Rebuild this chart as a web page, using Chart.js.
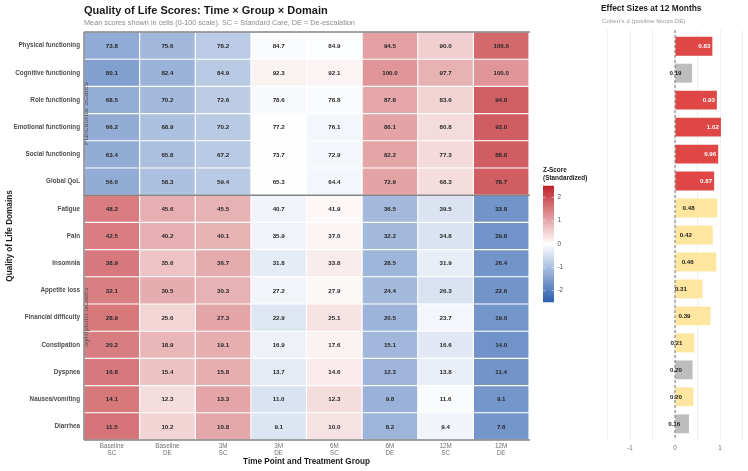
<!DOCTYPE html>
<html><head><meta charset="utf-8">
<script src="https://cdn.jsdelivr.net/npm/chart.js@4.4.1/dist/chart.umd.min.js"></script>
<style>
html,body{margin:0;padding:0;background:#fff;width:748px;height:471px;overflow:hidden}
canvas{position:absolute;top:0}
#c1{left:0}
#c2{left:590px}
</style></head><body>
<canvas id="c1" width="748" height="471" style="width:748px;height:471px"></canvas>
<canvas id="c2" width="158" height="471" style="width:158px;height:471px"></canvas>
<script>
// ---------- DATA ----------
const domains = ["Physical functioning","Cognitive functioning","Role functioning","Emotional functioning","Social functioning","Global QoL","Fatigue","Pain","Insomnia","Appetite loss","Financial difficulty","Constipation","Dyspnea","Nausea/vomiting","Diarrhea"];
const timePoints = ["Baseline\nSC","Baseline\nDE","3M\nSC","3M\nDE","6M\nSC","6M\nDE","12M\nSC","12M\nDE"];
const physical     = [73.8,75.6,78.2,84.7,84.9,94.5,90.0,100.0];
const cognitive    = [80.1,82.4,84.9,92.3,92.1,100.0,97.7,100.0];
const role         = [68.5,70.2,72.6,78.6,78.8,87.8,83.6,94.8];
const emotional    = [66.2,68.9,70.2,77.2,76.1,86.1,80.8,93.0];
const social       = [63.4,65.8,67.2,73.7,72.9,82.2,77.3,88.8];
const globalQoL    = [56.0,58.3,59.4,65.3,64.4,72.9,68.3,78.7];
const fatigue      = [48.2,45.6,45.5,40.7,41.9,36.5,39.5,33.8];
const pain         = [42.5,40.2,40.1,35.9,37.0,32.2,34.8,29.8];
const insomnia     = [38.9,35.6,36.7,31.8,33.8,28.5,31.9,26.4];
const appetite     = [32.1,30.5,30.3,27.2,27.9,24.4,26.3,22.6];
const financial    = [28.9,25.6,27.3,22.9,25.1,20.5,23.7,19.0];
const constipation = [20.2,18.9,19.1,16.9,17.6,15.1,16.6,14.0];
const dyspnea      = [16.8,15.4,15.8,13.7,14.6,12.3,13.8,11.4];
const nausea       = [14.1,12.3,13.3,11.0,12.3,9.8,11.6,9.1];
const diarrhea     = [11.5,10.2,10.8,9.1,10.0,8.2,9.4,7.6];
const scores = [physical,cognitive,role,emotional,social,globalQoL,fatigue,pain,insomnia,appetite,financial,constipation,dyspnea,nausea,diarrhea];
const nFunctional = 6;
const groupLabels = ["Functional Scales","Symptom Scales"];

const effectLabels = [0.83,0.19,0.93,1.02,0.96,0.87,0.48,0.42,0.46,0.31,0.39,0.21,0.20,0.20,0.16];
const effectBars   = [0.83,0.38,0.93,1.02,0.96,0.87,0.94,0.84,0.92,0.61,0.79,0.43,0.39,0.41,0.31];
const effectClass  = ["func","ns","func","func","func","func","sym","sym","sym","sym","sym","sym","ns","sym","ns"];
const effectTicks  = [-1.5,-1,-0.5,0,0.5,1,1.5];
const effectTickLabels = {"-1":"-1","0":"0","1":"1"};
const legendTicks = [2,1,0,-1,-2];
const Z_LIMIT = 2.5;

// ---------- STYLE ----------
const FONT = '"Liberation Sans", Arial, sans-serif';
const HIGH = [190,35,40], LOW = [45,95,175];
const classColor = {func:'#DF4646', sym:'#FEE5A0', ns:'#BDBDBD'};

function zRow(arr){
  const m = arr.reduce((a,b)=>a+b,0)/arr.length;
  const sd = Math.sqrt(arr.reduce((a,b)=>a+(b-m)*(b-m),0)/arr.length);
  return arr.map(v=>(v-m)/sd);
}
const zScores = scores.map(zRow);
function zColor(z){
  let t = Math.max(-1, Math.min(1, z/Z_LIMIT));
  const c = t>=0 ? HIGH : LOW; t = Math.abs(t);
  const r = Math.round(255-(255-c[0])*t), g = Math.round(255-(255-c[1])*t), b = Math.round(255-(255-c[2])*t);
  return `rgb(${r},${g},${b})`;
}

// ---------- HEATMAP ----------
const heatPlugin = {
  id:'heat',
  afterDatasetsDraw(chart){
    const ctx = chart.ctx, ca = chart.chartArea, ys = chart.scales.y;
    ctx.save();
    ctx.font = `bold 6.2px ${FONT}`; ctx.fillStyle = '#262626';
    ctx.textAlign = 'center'; ctx.textBaseline = 'middle';
    chart.data.datasets.forEach((ds,i)=>{
      chart.getDatasetMeta(i).data.forEach((el,j)=>{
        const p = el.getCenterPoint();
        ctx.fillText(scores[j][i].toFixed(1), p.x, p.y+0.5);
      });
    });
    // panel borders
    const sepY = (ys.getPixelForValue(nFunctional-1)+ys.getPixelForValue(nFunctional))/2;
    ctx.strokeStyle = '#858585'; ctx.lineWidth = 1.5;
    ctx.beginPath();
    ctx.moveTo(ca.left, ca.top); ctx.lineTo(ca.right+1, ca.top);
    ctx.moveTo(ca.left, sepY); ctx.lineTo(ca.right+1, sepY);
    ctx.moveTo(ca.left, ca.bottom); ctx.lineTo(ca.right+1, ca.bottom);
    ctx.moveTo(ca.left, ca.top); ctx.lineTo(ca.left, ca.bottom);
    ctx.stroke();
    // strip labels (clipped)
    ctx.save();
    ctx.beginPath(); ctx.rect(ca.left+0.7, ca.top, ca.right-ca.left, ca.bottom-ca.top); ctx.clip();
    ctx.font = `8px ${FONT}`; ctx.fillStyle = '#555';
    const groups = [[ca.top, sepY],[sepY, ca.bottom]];
    groups.forEach((g,k)=>{
      ctx.save();
      ctx.translate(ca.left+1.5, (g[0]+g[1])/2);
      ctx.rotate(-Math.PI/2);
      ctx.textAlign='center'; ctx.textBaseline='middle';
      ctx.fillText(groupLabels[k], 0, 0);
      ctx.restore();
    });
    ctx.restore();
    ctx.restore();
  },
  afterDraw(chart){
    const ctx = chart.ctx, ca = chart.chartArea;
    ctx.save();
    ctx.textAlign='left'; ctx.textBaseline='alphabetic';
    ctx.fillStyle='#1a1a1a'; ctx.font=`bold 11px ${FONT}`;
    ctx.fillText("Quality of Life Scores: Time \u00d7 Group \u00d7 Domain", 84, 14);
    ctx.fillStyle='#8c8c8c'; ctx.font=`7.3px ${FONT}`;
    ctx.fillText("Mean scores shown in cells (0-100 scale). SC = Standard Care, DE = De-escalation", 84, 25);
    // axis titles
    ctx.fillStyle='#1a1a1a'; ctx.font=`bold 8.2px ${FONT}`; ctx.textAlign='center';
    ctx.fillText("Time Point and Treatment Group", (ca.left+ca.right)/2, 464);
    ctx.save(); ctx.translate(11.5,(ca.top+ca.bottom)/2); ctx.rotate(-Math.PI/2);
    ctx.fillText("Quality of Life Domains", 0, 0); ctx.restore();
    // legend
    const x0 = 543, w = 11, zeroY = 244, unit = 23.3;
    const top = zeroY - Z_LIMIT*unit, bot = zeroY + Z_LIMIT*unit;
    const grad = ctx.createLinearGradient(0, top, 0, bot);
    for(let s=0;s<=20;s++){ const z = Z_LIMIT - s*(2*Z_LIMIT/20); grad.addColorStop(s/20, zColor(z)); }
    ctx.fillStyle = grad; ctx.fillRect(x0, top, w, bot-top);
    ctx.strokeStyle='rgba(255,255,255,0.9)'; ctx.lineWidth=0.6;
    legendTicks.forEach(t=>{
      const y = zeroY - t*unit;
      ctx.beginPath(); ctx.moveTo(x0,y); ctx.lineTo(x0+2.2,y); ctx.moveTo(x0+w-2.2,y); ctx.lineTo(x0+w,y); ctx.stroke();
    });
    ctx.fillStyle='#4d4d4d'; ctx.font=`6.3px ${FONT}`; ctx.textAlign='left'; ctx.textBaseline='middle';
    legendTicks.forEach(t=>{ ctx.fillText(String(t), 557.5, zeroY - t*unit); });
    ctx.fillStyle='#1a1a1a'; ctx.font=`bold 6.4px ${FONT}`; ctx.textBaseline='alphabetic';
    ctx.fillText("Z-Score", x0, 172);
    ctx.fillText("(Standardized)", x0, 179.5);
    // right panel titles
    ctx.font=`bold 8.4px ${FONT}`; ctx.fillStyle='#1a1a1a';
    ctx.fillText("Effect Sizes at 12 Months", 601, 11);
    ctx.font=`6.2px ${FONT}`; ctx.fillStyle='#999';
    ctx.fillText("Cohen's d (positive favors DE)", 602, 23);
    ctx.restore();
  }
};

new Chart(document.getElementById('c1'), {
  type:'bar',
  data:{
    labels: domains,
    datasets: timePoints.map((tp,i)=>({
      label: tp,
      data: domains.map(()=>[i,i+1]),
      backgroundColor: domains.map((d,r)=>zColor(zScores[r][i])),
      borderColor:'#ffffff', borderWidth:0.9, borderSkipped:false,
      barPercentage:1, categoryPercentage:1, grouped:false
    }))
  },
  options:{
    indexAxis:'y', responsive:false, animation:false, devicePixelRatio:1,
    layout:{padding:{left:0, top:32, right:219, bottom:0}},
    plugins:{legend:{display:false}, tooltip:{enabled:false}},
    scales:{
      x:{type:'linear', min:0, max:timePoints.length,
        afterBuildTicks:(s)=>{ s.ticks = timePoints.map((_,i)=>({value:i+0.5})); },
        afterFit:(s)=>{ s.height = 31; },
        grid:{display:false, drawTicks:false}, border:{display:false},
        ticks:{autoSkip:false, maxRotation:0, padding:3, color:'#707070',
          font:{family:FONT, size:6.3, lineHeight:1.05},
          callback:(v,idx)=>timePoints[idx].split('\n')}
      },
      y:{type:'category',
        afterFit:(s)=>{ s.width = 84; },
        grid:{display:false, drawTicks:false}, border:{display:false},
        ticks:{padding:4, color:'#4d4d4d', font:{family:FONT, size:6.3, weight:'bold'}}
      }
    }
  },
  plugins:[heatPlugin]
});

// ---------- EFFECT SIZES ----------
const effectPlugin = {
  id:'eff',
  afterDatasetsDraw(chart){
    const ctx = chart.ctx, ca = chart.chartArea, xs = chart.scales.x;
    ctx.save();
    const x0 = xs.getPixelForValue(0);
    ctx.strokeStyle='#555'; ctx.lineWidth=0.8; ctx.setLineDash([3,2]);
    ctx.beginPath(); ctx.moveTo(x0, ca.top); ctx.lineTo(x0, ca.bottom); ctx.stroke();
    ctx.setLineDash([]);
    ctx.font=`bold 6.2px ${FONT}`; ctx.textAlign='right'; ctx.textBaseline='middle';
    chart.getDatasetMeta(0).data.forEach((el,i)=>{
      ctx.fillStyle = effectClass[i]==='func' ? '#ffffff' : '#1a1a1a';
      ctx.fillText(effectLabels[i].toFixed(2), xs.getPixelForValue(effectLabels[i])-2, el.y+0.5);
    });
    ctx.restore();
  }
};

new Chart(document.getElementById('c2'), {
  type:'bar',
  data:{
    datasets:[{
      data: effectBars.map((v,i)=>({x:v, y:i})),
      backgroundColor: effectClass.map(c=>classColor[c]),
      borderWidth:0, barPercentage:0.7, categoryPercentage:1
    }]
  },
  options:{
    indexAxis:'y', responsive:false, animation:false, devicePixelRatio:1,
    layout:{padding:{left:13, right:1, top:30, bottom:0}},
    plugins:{legend:{display:false}, tooltip:{enabled:false}},
    scales:{
      x:{type:'linear', min:-1.6, max:1.6,
        afterBuildTicks:(s)=>{ s.ticks = effectTicks.map(v=>({value:v})); },
        afterFit:(s)=>{ s.height = 31; },
        grid:{color:'#ebebeb', lineWidth:0.8, drawTicks:false}, border:{display:false},
        ticks:{autoSkip:false, maxRotation:0, padding:4, color:'#707070',
          font:{family:FONT, size:6.3},
          callback:(v)=> effectTickLabels[String(v)] || ''}
      },
      y:{type:'linear', display:false, reverse:true, offset:false,
        min:-0.6, max:domains.length-0.4,
        afterBuildTicks:(s)=>{ s.ticks = domains.map((_,i)=>({value:i})); }
      }
    }
  },
  plugins:[effectPlugin]
});
</script>
</body></html>
